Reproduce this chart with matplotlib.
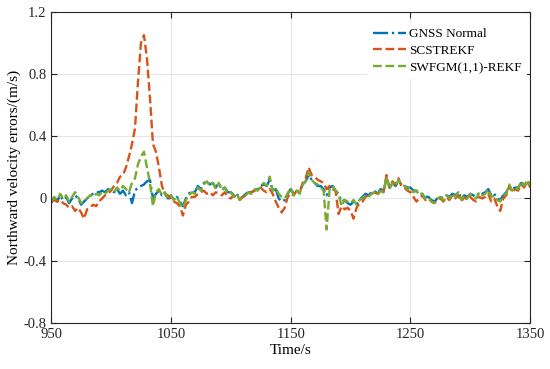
import matplotlib

matplotlib.use("Agg", force=True)
import matplotlib.pyplot as plt
import numpy as np

# time axis, 2.5 s spacing from 950 to 1350 s
t_start, t_step = 950, 2.5

# values, rows of 8 samples (20 s each)
gnss_normal = [
    -0.03, 0.00, -0.02, 0.02, -0.01, 0.01, -0.03, 0.00,
    0.02, 0.00, -0.04, -0.02, 0.00, 0.02, 0.03, 0.04,
    0.04, 0.05, 0.04, 0.06, 0.05, 0.04, 0.06, 0.03,
    0.05, 0.02, 0.04, -0.03, 0.05, 0.07, 0.08, 0.09,
    0.11, 0.12, 0.00, 0.03, 0.05, 0.02, 0.03, 0.00,
    0.02, -0.01, 0.01, -0.02, -0.05, 0.00, 0.03, 0.05,
    0.04, 0.08, 0.06, 0.10, 0.11, 0.09, 0.10, 0.07,
    0.10, 0.06, 0.07, 0.04, 0.04, 0.02, 0.03, 0.00,
    0.01, 0.03, 0.04, 0.04, 0.06, 0.06, 0.08, 0.09,
    0.08, 0.12, 0.05, 0.06, 0.00, -0.02, -0.01, 0.03,
    0.06, 0.03, 0.05, 0.04, 0.09, 0.11, 0.15, 0.12,
    0.10, 0.08, 0.08, 0.06, 0.02, 0.07, 0.08, 0.05,
    0.03, -0.02, -0.01, -0.03, -0.04, -0.02, -0.04, -0.01,
    0.01, 0.03, 0.02, 0.04, 0.05, 0.03, 0.06, 0.05,
    0.12, 0.07, 0.10, 0.08, 0.11, 0.09, 0.08, 0.07,
    0.07, 0.05, 0.05, 0.03, 0.03, 0.01, 0.01, -0.01,
    -0.02, 0.00, 0.01, 0.00, 0.02, 0.01, 0.03, 0.02,
    0.04, 0.00, 0.02, 0.01, 0.03, 0.02, 0.01, 0.04,
    0.03, 0.04, 0.06, 0.02, 0.03, 0.00, -0.01, 0.02,
    0.04, 0.08, 0.06, 0.07, 0.07, 0.10, 0.09, 0.11,
    0.09,
]

scstrekf = [
    -0.02, -0.01, -0.02, -0.01, -0.03, -0.04, -0.06, -0.05,
    -0.08, -0.06, -0.09, -0.13, -0.07, -0.06, -0.04, -0.05,
    -0.02, 0.00, 0.02, 0.03, 0.05, 0.08, 0.10, 0.14,
    0.15, 0.20, 0.27, 0.35, 0.45, 0.75, 1.00, 1.05,
    0.90, 0.65, 0.35, 0.30, 0.20, 0.08, 0.03, 0.02,
    -0.01, -0.02, -0.03, -0.05, -0.11, -0.04, -0.02, 0.01,
    0.01, 0.03, 0.04, 0.05, 0.03, 0.04, 0.02, 0.04,
    0.03, 0.02, 0.04, 0.01, 0.00, 0.02, 0.01, -0.01,
    0.01, 0.02, 0.03, 0.04, 0.05, 0.06, 0.07, 0.05,
    0.04, 0.06, 0.03, -0.02, -0.06, -0.09, -0.06, 0.01,
    0.03, 0.02, 0.05, 0.04, 0.10, 0.13, 0.20, 0.15,
    0.14, 0.12, 0.11, 0.10, 0.06, 0.08, 0.06, 0.05,
    -0.10, -0.05, -0.07, -0.06, -0.08, -0.13, -0.06, -0.03,
    -0.02, 0.01, 0.02, 0.03, 0.04, 0.03, 0.05, 0.04,
    0.15, 0.07, 0.11, 0.09, 0.13, 0.08, 0.07, 0.05,
    0.04, 0.01, -0.02, 0.00, 0.02, -0.01, 0.00, -0.02,
    -0.03, -0.01, 0.00, -0.02, 0.01, -0.01, 0.02, 0.00,
    0.02, -0.02, 0.01, -0.01, 0.01, -0.01, -0.02, 0.01,
    0.00, 0.01, 0.03, -0.02, 0.00, -0.05, -0.08, 0.00,
    0.02, 0.08, 0.04, 0.06, 0.05, 0.09, 0.07, 0.11,
    0.07,
]

swfgm_rekf = [
    -0.02, 0.01, -0.01, 0.03, 0.00, 0.02, -0.02, 0.01,
    0.04, 0.01, -0.03, -0.02, 0.00, 0.02, 0.01, 0.03,
    0.02, 0.04, 0.03, 0.05, 0.06, 0.04, 0.07, 0.05,
    0.08, 0.06, 0.04, 0.10, 0.13, 0.22, 0.27, 0.30,
    0.20, 0.10, -0.05, 0.04, 0.06, 0.02, 0.04, 0.00,
    0.02, -0.01, 0.01, -0.03, -0.06, -0.01, 0.02, 0.04,
    0.03, 0.07, 0.05, 0.09, 0.11, 0.08, 0.10, 0.06,
    0.10, 0.05, 0.07, 0.03, 0.04, 0.01, 0.03, -0.01,
    0.01, 0.02, 0.04, 0.03, 0.06, 0.05, 0.08, 0.10,
    0.08, 0.14, 0.05, 0.07, 0.03, 0.01, 0.00, 0.03,
    0.07, 0.02, 0.05, 0.03, 0.09, 0.11, 0.17, 0.12,
    0.10, 0.09, 0.07, 0.05, -0.20, 0.06, 0.08, 0.05,
    0.03, -0.05, -0.01, -0.02, -0.03, -0.01, -0.04, -0.01,
    0.00, 0.02, 0.01, 0.03, 0.04, 0.02, 0.05, 0.04,
    0.14, 0.06, 0.10, 0.08, 0.12, 0.09, 0.08, 0.06,
    0.07, 0.04, 0.05, 0.02, 0.03, 0.00, 0.01, -0.02,
    -0.03, 0.00, 0.01, -0.01, 0.02, 0.00, 0.03, 0.01,
    0.04, -0.01, 0.02, 0.00, 0.03, 0.01, 0.00, 0.04,
    0.02, 0.03, 0.06, 0.01, 0.02, -0.01, -0.02, 0.02,
    0.03, 0.09, 0.05, 0.07, 0.06, 0.11, 0.08, 0.12,
    0.08,
]

x_ticks = [950, 1050, 1150, 1250, 1350]
y_ticks = [-0.8, -0.4, 0, 0.4, 0.8, 1.2]
y_ticklabels = ["-0.8", "-0.4", "0", "0.4", "0.8", "1.2"]

plt.rcParams["font.family"] = ["Liberation Serif", "DejaVu Serif"]

time = t_start + t_step * np.arange(len(gnss_normal))

fig = plt.figure(figsize=(5.5, 3.69), dpi=100)
ax = fig.add_axes([0.093, 0.125, 0.871, 0.843])

ax.plot(time, gnss_normal, color="#0072BD", ls="-.", lw=1.7, label="GNSS Normal")
ax.plot(time, scstrekf, color="#D95319", ls="--", lw=1.7, label="SCSTREKF")
ax.plot(time, swfgm_rekf, color="#77AC30", ls="--", lw=1.7, label="SWFGM(1,1)-REKF")

ax.set_xlim(950, 1350)
ax.set_ylim(-0.8, 1.2)
ax.set_xticks(x_ticks)
ax.set_yticks(y_ticks)
ax.set_yticklabels(y_ticklabels)
ax.tick_params(direction="in", top=True, right=True, labelsize=10.5, colors="#262626", length=4)
for s in ax.spines.values():
    s.set_color("#262626")
    s.set_linewidth(0.8)
ax.grid(True, color="#e6e6e6", lw=0.8)
ax.set_axisbelow(True)

ax.set_xlabel("Time/s", fontsize=11, labelpad=2)
ax.set_ylabel("Northward velocity errors/(m/s)", fontsize=11, labelpad=2)

leg = ax.legend(loc="upper left", bbox_to_anchor=(0.66, 0.965), fontsize=9.5,
                handlelength=2.5, handletextpad=0.25, labelspacing=0.35,
                borderaxespad=0, frameon=True, fancybox=False)
leg.get_frame().set_facecolor("white")
leg.get_frame().set_edgecolor("none")
leg.get_frame().set_alpha(1.0)

fig.savefig("out.png")
